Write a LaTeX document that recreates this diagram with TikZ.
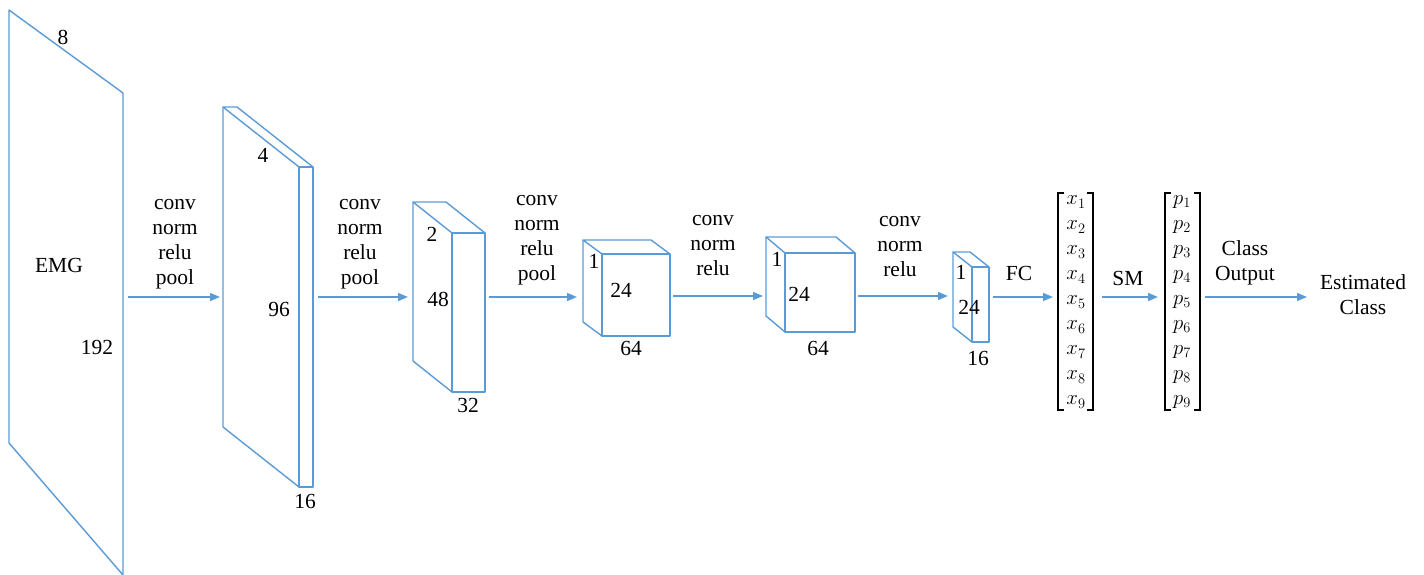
\documentclass[tikz,border=0pt]{standalone}
\usepackage{fontspec}
\setmainfont{Liberation Serif}
\usetikzlibrary{arrows.meta}
\definecolor{lblue}{RGB}{91,155,213}
\newcommand\cnnbox[6]{%
  \draw[blk] (#1,#2) rectangle (#3,#4);
  \draw[blk] (#1,#2) -- ({#1+#5},{#2+#6}) -- ({#3+#5},{#2+#6}) -- (#3,#2);
  \draw[blk] ({#1+#5},{#2+#6}) -- ({#1+#5},{#4+#6}) -- (#1,#4);
}
\begin{document}
\begin{tikzpicture}[x=1pt,y=-1pt,
  font=\fontsize{21.5}{25}\selectfont,
  blk/.style={draw=lblue,line width=1.4pt,line join=round},
  arr/.style={draw=lblue,line width=1.4pt,-{Triangle[length=10pt,width=8pt]}},
  brk/.style={draw=black,line width=1.1pt},
  lbl/.style={inner sep=0pt,align=center},
  num/.style={inner sep=0pt}]
\useasboundingbox (0,0) rectangle (1424,575);
% block 1 (EMG plane)
\draw[blk] (9,10) -- (123,93) -- (123,575) -- (9,443) -- cycle;
\node[num] (n8) at (63,37) {8};
\node[num] (emg) at (59,265) {EMG};
\node[num] (n192) at (97,347) {192};
% block 2
\cnnbox{299}{167}{313}{487}{-76}{-60}
\node[num] (n4) at (263,155) {4};
\node[num] (n96) at (279,309) {96};
\node[num] (n16a) at (305,501) {16};
% block 3
\cnnbox{452}{233}{485}{392}{-39}{-31}
\node[num] (n2) at (432,234) {2};
\node[num] (n48) at (438,299) {48};
\node[num] (n32) at (468,405) {32};
% block 4
\cnnbox{602}{254}{670}{336}{-19}{-14}
\node[num] (n1a) at (594,261) {1};
\node[num] (n24a) at (621,290) {24};
\node[num] (n64a) at (631,348) {64};
% block 5
\cnnbox{785}{253}{855}{332}{-19}{-16}
\node[num] (n1b) at (777,259) {1};
\node[num] (n24b) at (799,294) {24};
\node[num] (n64b) at (818,348) {64};
% block 6
\cnnbox{972}{267}{989}{342}{-19}{-15}
\node[num] (n1c) at (961,272) {1};
\node[num] (n24c) at (969,307) {24};
\node[num] (n16b) at (978,358) {16};
% arrow end points
\coordinate (a1s) at (128,297); \coordinate (a1e) at (220,297);
\coordinate (a2s) at (318,297); \coordinate (a2e) at (408,297);
\coordinate (a3s) at (489,297); \coordinate (a3e) at (577,297);
\coordinate (a4s) at (673,296); \coordinate (a4e) at (763,296);
\coordinate (a5s) at (858,296); \coordinate (a5e) at (948,296);
\coordinate (a6s) at (993,297); \coordinate (a6e) at (1053,297);
\coordinate (a7s) at (1102,297); \coordinate (a7e) at (1158,297);
\coordinate (a8s) at (1205,297); \coordinate (a8e) at (1307,297);
\draw[arr] (a1s) -- (a1e);
\draw[arr] (a2s) -- (a2e);
\draw[arr] (a3s) -- (a3e);
\draw[arr] (a4s) -- (a4e);
\draw[arr] (a5s) -- (a5e);
\draw[arr] (a6s) -- (a6e);
\draw[arr] (a7s) -- (a7e);
\draw[arr] (a8s) -- (a8e);
% operation labels
\node[lbl] (l1) at (175,244) {conv\\norm\\relu\\pool};
\node[lbl] (l2) at (360,244) {conv\\norm\\relu\\pool};
\node[lbl] (l3) at (537,240) {conv\\norm\\relu\\pool};
\node[lbl] (l4) at (713,246) {conv\\norm\\relu};
\node[lbl] (l5) at (900,247) {conv\\norm\\relu};
\node[lbl] (fc) at (1019,273) {FC};
\node[lbl] (sm) at (1128,278) {SM};
\node[lbl] (co) at (1245,263) {Class\\Output};
\node[lbl] (est) at (1363,295) {Estimated\\Class};
% vectors
\draw[brk] (1064,193) -- (1058,193) -- (1058,410) -- (1064,410);
\draw[brk] (1087,193) -- (1093,193) -- (1093,410) -- (1087,410);
\draw[brk] (1171,193) -- (1165,193) -- (1165,410) -- (1171,410);
\draw[brk] (1194,193) -- (1200,193) -- (1200,410) -- (1194,410);
\foreach \i in {1,...,9} {
  \node[num] (x\i) at (1076,{202+25*(\i-1)}) {$x_{\i}$};
  \node[num] (p\i) at (1182,{202+25*(\i-1)}) {$p_{\i}$};
}
\end{tikzpicture}
\end{document}
